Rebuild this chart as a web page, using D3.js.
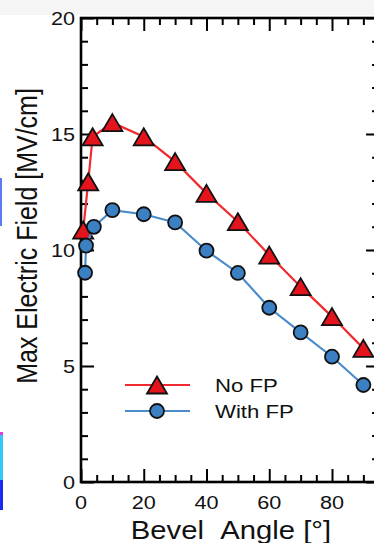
<!DOCTYPE html>
<html><head><meta charset="utf-8">
<script src="https://cdn.jsdelivr.net/npm/d3@7"></script>
<style>html,body{margin:0;padding:0;background:#fff;}svg{display:block;}</style>
</head><body><svg id="chart" width="374" height="543"></svg>
<script>
// ---- data ----
const noFPAngle   = [0.7, 2.3, 3.7, 10, 20, 30, 40, 50, 60, 70, 80, 90];
const noFPField   = [10.86, 12.94, 14.88, 15.49, 14.88, 13.81, 12.44, 11.22, 9.78, 8.42, 7.13, 5.76];
const withFPAngle = [1.3, 1.6, 4.1, 10, 20, 30, 40, 50, 60, 70, 80, 90];
const withFPField = [9.02, 10.19, 11.0, 11.72, 11.54, 11.19, 9.97, 9.01, 7.51, 6.45, 5.40, 4.18];
const xTickLabels = [0, 20, 40, 60, 80];
const yTickLabels = [0, 5, 10, 15, 20];
const seriesNames = ["No FP", "With FP"];
const xTitle = ["Bevel", "Angle [°]"];
const yTitle = "Max Electric Field [MV/cm]";

const svg = d3.select("#chart");
const FONT = "'Liberation Sans', Arial, Helvetica, sans-serif";
const SX = 1.17; // horizontal stretch of the reference text

// faint band at the top & cropped artefacts at left edge
svg.append("rect").attr("x",0).attr("y",0).attr("width",374).attr("height",15).attr("fill","#f5f5f5");
svg.append("rect").attr("x",0).attr("y",178).attr("width",2).attr("height",48).attr("fill","#5b7cf0");
svg.append("rect").attr("x",0).attr("y",432).attr("width",3).attr("height",3).attr("fill","#e040e0");
svg.append("rect").attr("x",0).attr("y",435).attr("width",3).attr("height",45).attr("fill","#33c8f5");
svg.append("rect").attr("x",0).attr("y",480).attr("width",3).attr("height",30).attr("fill","#1a2bf0");

const x = d3.scaleLinear().domain([0, 95]).range([81, 81 + 3.1375*95]);
const y = d3.scaleLinear().domain([0, 20]).range([482, 18]);
const [x0, x1] = x.range();
const [y0, y1] = y.range();

function styleAxis(g){
  g.select(".domain").remove();
  g.selectAll(".tick text").remove();
  g.selectAll(".tick line").attr("stroke","#000").attr("stroke-width",2);
}
const xMinor = d3.range(0, 96, 5).filter(v => v % 20 !== 0);
const xMajor = d3.range(0, 96, 20);
const yMinor = d3.range(0, 21, 1).filter(v => v % 5 !== 0);
const yMajor = d3.range(0, 21, 5);

// bottom
svg.append("g").attr("transform",`translate(0,${y0})`).call(d3.axisTop(x).tickValues(xMajor).tickSize(13)).call(styleAxis);
svg.append("g").attr("transform",`translate(0,${y0})`).call(d3.axisTop(x).tickValues(xMinor).tickSize(7)).call(styleAxis);
// top
svg.append("g").attr("transform",`translate(0,${y1})`).call(d3.axisBottom(x).tickValues(xMajor).tickSize(13)).call(styleAxis);
svg.append("g").attr("transform",`translate(0,${y1})`).call(d3.axisBottom(x).tickValues(xMinor).tickSize(7)).call(styleAxis);
// left
svg.append("g").attr("transform",`translate(${x0},0)`).call(d3.axisRight(y).tickValues(yMajor).tickSize(13)).call(styleAxis);
svg.append("g").attr("transform",`translate(${x0},0)`).call(d3.axisRight(y).tickValues(yMinor).tickSize(7)).call(styleAxis);
// right
svg.append("g").attr("transform",`translate(${x1},0)`).call(d3.axisLeft(y).tickValues(yMajor).tickSize(13)).call(styleAxis);
svg.append("g").attr("transform",`translate(${x1},0)`).call(d3.axisLeft(y).tickValues(yMinor).tickSize(7)).call(styleAxis);

// frame
svg.append("rect").attr("x",x0).attr("y",y1).attr("width",x1-x0).attr("height",y0-y1)
  .attr("fill","none").attr("stroke","#000").attr("stroke-width",2.6);

// tick labels
svg.append("g").selectAll("text").data(xTickLabels).join("text")
  .attr("transform", d => `translate(${x(d)},509) scale(${SX},1)`)
  .attr("text-anchor","middle").attr("font-family",FONT).attr("font-size",18.5).attr("fill","#111")
  .text(d => d);
svg.append("g").selectAll("text").data(yTickLabels).join("text")
  .attr("transform", d => `translate(75,${y(d)+6.5}) scale(${SX},1)`)
  .attr("text-anchor","end").attr("font-family",FONT).attr("font-size",18.5).attr("fill","#111")
  .text(d => d);

// axis titles
const xt = svg.append("text").attr("transform",`translate(231,539) scale(${SX},1)`)
  .attr("text-anchor","middle").attr("font-family",FONT).attr("font-size",25).attr("fill","#111");
xt.append("tspan").text(xTitle[0]);
xt.append("tspan").attr("dx",14).text(xTitle[1]);
svg.append("text").attr("transform",`translate(37,236) scale(${SX},1) rotate(-90)`)
  .attr("text-anchor","middle").attr("font-family",FONT).attr("font-size",25).attr("fill","#111")
  .text(yTitle);

// series
const triType = { draw(ctx, size){ const w = 10, h = 8.5; ctx.moveTo(0,-h); ctx.lineTo(w,h); ctx.lineTo(-w,h); ctx.closePath(); } };
const series = [
  {name: seriesNames[0], xs: noFPAngle, ys: noFPField, line: "#f02a2e", fill: "#e3141c", sym: triType},
  {name: seriesNames[1], xs: withFPAngle, ys: withFPField, line: "#4a8ccb", fill: "#3a80c2", sym: d3.symbolCircle}
];
const lineGen = d3.line().x(d => x(d[0])).y(d => y(d[1]));
series.forEach(s => {
  const pts = s.xs.map((v,i) => [v, s.ys[i]]);
  svg.append("path").datum(pts).attr("d", lineGen).attr("fill","none").attr("stroke", s.line).attr("stroke-width",2.2);
  svg.append("g").selectAll("path").data(pts).join("path")
    .attr("transform", d => `translate(${x(d[0])},${y(d[1])})`)
    .attr("d", d3.symbol().type(s.sym).size(s.sym === d3.symbolCircle ? Math.PI*7*7 : 1))
    .attr("fill", s.fill).attr("stroke","#111").attr("stroke-width",1.8);
});

// legend
const legY = [385, 411];
series.forEach((s,i) => {
  const g = svg.append("g");
  g.append("line").attr("x1",125).attr("x2",190).attr("y1",legY[i]).attr("y2",legY[i]).attr("stroke",s.line).attr("stroke-width",2.2);
  g.append("path").attr("transform",`translate(157,${legY[i]})`)
    .attr("d", d3.symbol().type(s.sym).size(s.sym === d3.symbolCircle ? Math.PI*7*7 : 1))
    .attr("fill", s.fill).attr("stroke","#111").attr("stroke-width",1.8);
  g.append("text").attr("transform",`translate(215,${legY[i]+7}) scale(1.2,1)`)
    .attr("font-family",FONT).attr("font-size",18.5).attr("fill","#111").text(s.name);
});
</script></body></html>
